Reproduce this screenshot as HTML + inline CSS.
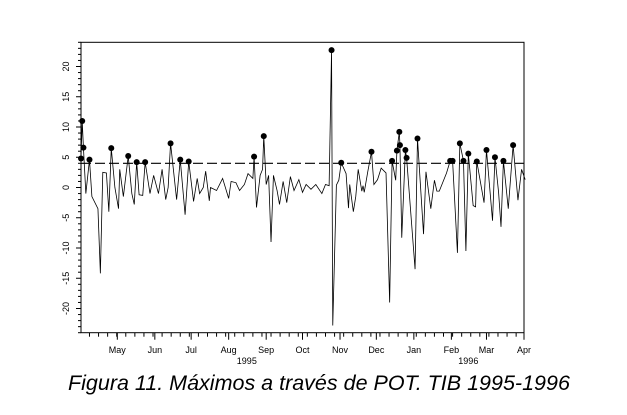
<!DOCTYPE html>
<html><head><meta charset="utf-8"><style>
body{margin:0;background:#fff;}
svg text{font-family:"Liberation Sans",sans-serif;}
</style></head><body>
<svg id="chart" width="627" height="410" viewBox="0 0 627 410">
<rect x="0" y="0" width="627" height="410" fill="#fff"/>
<g id="grid"></g>
<rect x="81" y="42.3" width="443" height="290.4" fill="none" stroke="#000" stroke-width="1"/>
<text x="68" y="390" font-size="21.5" font-style="italic">Figura 11. Máximos a través de POT. TIB 1995-1996</text>
</svg>
<script>
const days=[0,1,2,4,7,9,14,16,18,21,23,25,28,31,32,35,39,42,44,46,48,51,53,57,60,64,67,70,72,74,79,82,86,89,93,96,98,101,103,106,107,112,117,122,124,128,131,135,138,142,143,145,148,150,151,153,155,157,159,162,164,167,170,173,176,180,183,186,190,194,199,202,205,207,208,211,213,215,219,221,222,225,227,229,232,233,234,237,240,242,245,248,252,255,257,260,261,263,263.5,265,268,269,276,278,283,285,289,292,294,296,302,305,307,311,313,316,318,320,324,326,327,333,335,340,342,345,347,349,353,357,361,364,367];
const values=[4.8,11,6.6,-1,4.6,-1.5,-3.5,-14.2,2.5,2.4,-4,6.5,0,-3.5,3,-1.5,5.2,-1,-2.8,4.2,-1.2,-1.3,4.2,-1,2,-1,3,-2,0,7.3,-2,4.6,-4.5,4.3,-2.3,1.5,-1,0,2.7,-2.2,0,-0.5,1.5,-1.8,1,0.8,-0.5,0.5,2.3,1.5,5.1,-3.3,2,3,8.5,0.5,2,-9,2,-0.5,-2.8,1,-2.5,1.8,-0.5,1.3,-0.8,0.5,-0.3,0.5,-1,0.5,0.3,22.7,-22.8,0.4,1.2,4.1,2.3,-3.4,0.5,-4,-1.5,3,-0.6,0.3,-0.8,2.7,5.9,0.5,1.3,3.2,2.4,-19,4.4,1.2,6.1,9.2,7,-8.3,6.2,4.9,-13.5,8.1,-7.7,2.6,-3.5,1.2,-0.6,-0.6,2.4,4.4,4.4,-10.8,7.3,4.4,-10.5,5.6,-3,-3.2,4.3,-2.5,6.2,-5.5,5,-0.8,-6.5,4.4,-3.5,7,-2.1,3,1.3];
const threshold=[4];
const yTicks=[-20,-15,-10,-5,0,5,10,15,20];
const months=["May","Jun","Jul","Aug","Sep","Oct","Nov","Dec","Jan","Feb","Mar","Apr"];
const monthDays=[30,61,91,122,153,183,214,244,275,306,335,366];
const years=["1995","1996"];
const yearDays=[137,320];
const X0=81,X1=524,D0=0,D1=366,YT=42.3,YB=332.7,V0=-24,V1=24;
const xs=d=>X0+(d-D0)/(D1-D0)*(X1-X0);
const ys=v=>YB-(v-V0)/(V1-V0)*(YB-YT);
const NS="http://www.w3.org/2000/svg";
const svg=document.getElementById('chart'),g=document.getElementById('grid');
function mk(t,a,parent){const e=document.createElementNS(NS,t);for(const k in a)e.setAttribute(k,a[k]);(parent||g).appendChild(e);return e;}
// y ticks
for(let v=-24;v<=24;v++){const y=ys(v);const major=v%5===0;
 const t=mk('line',{x1:X0-(major?5:3),x2:X0,y1:y,y2:y,stroke:'#000','stroke-width':1});
 
 }
yTicks.forEach(v=>{const y=ys(v);const t=mk('text',{x:0,y:0,'font-size':9,'text-anchor':'middle',transform:`translate(69,${y}) rotate(-90)`});t.textContent=v;
 
 });
// x ticks
for(let d=7;d<366;d+=7.5){const x=xs(d);const t=mk('line',{x1:x,x2:x,y1:YB,y2:YB+4,stroke:'#000','stroke-width':1});
 
 }
months.forEach((m,i)=>{const x=xs(monthDays[i]);const t=mk('line',{x1:x,x2:x,y1:YB,y2:YB+7,stroke:'#000','stroke-width':1});
 
 
 const l=mk('text',{x:x,y:353,'font-size':9,'text-anchor':'middle'});l.textContent=m;
 
 });
years.forEach((yv,i)=>{const l=mk('text',{x:xs(yearDays[i]),y:364,'font-size':9,'text-anchor':'middle'});l.textContent=yv;
 
 });
// threshold
const th=mk('line',{x1:X0,x2:X1,y1:ys(threshold[0]),y2:ys(threshold[0]),stroke:'#000','stroke-width':1.2,'stroke-dasharray':'10,4'});


// series
const pl=mk('polyline',{points:days.map((d,i)=>xs(d)+','+ys(values[i])).join(' '),fill:'none',stroke:'#000','stroke-width':0.8});


days.forEach((d,i)=>{if(values[i]>threshold[0]){const c=mk('circle',{cx:xs(d),cy:ys(values[i]),r:3,fill:'#000'});
 
 }});
</script>
</body></html>
